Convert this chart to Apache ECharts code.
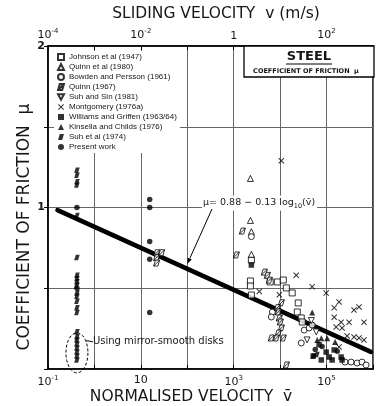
<!DOCTYPE html>
<html>
<head>
<meta charset="utf-8">
<script src="https://cdn.jsdelivr.net/npm/echarts@6.0.0/dist/echarts.min.js"></script>
<style>
  html, body { margin: 0; padding: 0; background: #fff; }
  #chart { width: 376px; height: 406px; }
</style>
</head>
<body>
<div id="chart"></div>
<script>
// Friction coefficient of steel against normalised sliding velocity.
// Each source is a list of [normalised velocity, coefficient of friction].
const johnson1947 = [[2.29e3,0.545],[2.29e3,0.514],[2.4e3,0.458],[2.4e3,0.675],[6.1e3,0.539],[8.7e3,0.539],[1.17e4,0.551],[1.36e4,0.502],[1.82e4,0.471],[2.45e4,0.409],[2.34e4,0.353],[2.85e4,0.316],[3.0e4,0.291]];
const quinnEtAl1980 = [[2.29e3,1.18],[2.29e3,0.92],[2.4e3,0.85],[2.4e3,0.71]];
const bowdenPersson1961 = [[2.4e3,0.82],[6.8e3,0.353],[6.45e3,0.322],[3.3e4,0.241],[4.2e4,0.254],[4.9e4,0.272],[2.85e4,0.161],[2.5e5,0.043],[3.37e5,0.043],[4.54e5,0.037],[5.8e5,0.043],[7.1e5,0.025]];
const quinn1967 = [[21.9,0.72],[21.9,0.69],[21.9,0.656],[28,0.72],[1.54e3,0.854],[1.14e3,0.706],[4.57e3,0.60],[5.3e3,0.58],[5.85e3,0.55],[1.06e4,0.41],[8.7e3,0.38],[9.1e3,0.353],[9.6e3,0.316],[1.01e4,0.291],[1.06e4,0.254],[9.1e3,0.223],[6.45e3,0.192],[8.3e3,0.192],[1.17e4,0.192],[1.36e4,0.025]];
const suhSin1981 = [[4.7e4,0.30],[6.0e4,0.23],[3.8e4,0.18]];
const montgomery1976a = [[1.06e4,1.29],[3.56e3,0.48],[9.6e3,0.46],[2.22e4,0.58],[4.9e4,0.51],[9.8e4,0.47],[1.46e5,0.38],[1.86e5,0.415],[3.9e5,0.365],[5.0e5,0.384],[1.46e5,0.32],[2.06e5,0.29],[3.05e5,0.29],[6.4e5,0.29],[1.61e5,0.26],[2.16e5,0.254],[2.77e5,0.204],[3.9e5,0.198],[5.0e5,0.192],[6.4e5,0.18],[1.86e5,0.136]];
const williamsGriffen = [[6.9e4,0.15],[9.8e4,0.105],[1.14e5,0.074],[1.32e5,0.056],[2.06e5,0.074],[2.16e5,0.056],[5.15e4,0.08],[7.7e4,0.056],[1.46e5,0.118],[2.4e3,0.644]];
const kinsellaChilds = [[4.9e4,0.35],[6.3e4,0.18],[7.7e4,0.19],[1.03e5,0.19],[1.53e5,0.167]];
const suhEtAl1974 = [[0.42,1.23],[0.42,1.20],[0.42,1.16],[0.42,1.14],[0.42,0.95],[0.42,0.69],[0.42,0.58],[0.42,0.56],[0.42,0.54],[0.42,0.52],[0.42,0.47],[0.42,0.45],[0.42,0.42],[0.42,0.38],[0.42,0.35],[0.42,0.23],[0.42,0.20],[0.42,0.18],[0.42,0.155],[0.42,0.13],[0.42,0.105],[0.42,0.08],[0.42,0.055],[5.2e4,0.08],[6.2e4,0.09]];
const presentWork = [[0.42,1.00],[0.42,0.50],[15.5,1.05],[15.5,1.00],[15.5,0.79],[15.5,0.68],[15.5,0.35],[8.0e4,0.14],[5.7e4,0.12],[1.7e5,0.11]];

// Fitted law  mu = fitA - fitB * log10(v)
const fitA = 0.88;
const fitB = 0.13;
const fitRange = [0.16, 9.0e5];

// Tick labels that are printed on each axis (exponents of ten)
const bottomExponents = [-1, 1, 3, 5];
const topExponents = [-4, -2, 0, 2];
const yTickLabels = { 1: '1', 2: '2' };

const FONT = 'DejaVu Sans';
const INK = '#161616';

const SYM_QUINN = 'path://M3,0 L10,0 L7,10 L0,10 Z M0,10 L10,0';
const SYM_SUH = 'path://M3,0 L10,0 L7,10 L0,10 Z';
const SYM_CROSS = 'path://M0,1.2 L1.2,0 L5,3.8 L8.8,0 L10,1.2 L6.2,5 L10,8.8 L8.8,10 L5,6.2 L1.2,10 L0,8.8 L3.8,5 Z';
const SYM_DOWN = 'path://M0,0 L10,0 L5,9 Z';

const openStyle = { color: '#fff', borderColor: '#000', borderWidth: 1 };
const solidStyle = { color: '#000', borderColor: '#000', borderWidth: 0 };

function pow10Label(e) {
  if (e === 0) return '1';
  if (e === 1) return '10';
  return '10{s|' + e + '}';
}

const sources = [
  { name: 'Johnson et al (1947)', data: johnson1947, symbol: 'rect', size: 6, style: openStyle },
  { name: 'Quinn et al (1980)', data: quinnEtAl1980, symbol: 'triangle', size: 6, style: openStyle },
  { name: 'Bowden and Persson (1961)', data: bowdenPersson1961, symbol: 'circle', size: 6, style: openStyle },
  { name: 'Quinn (1967)', data: quinn1967, symbol: SYM_QUINN, size: 6, style: openStyle },
  { name: 'Suh and Sin (1981)', data: suhSin1981, symbol: SYM_DOWN, size: 6, style: openStyle },
  { name: 'Montgomery (1976a)', data: montgomery1976a, symbol: SYM_CROSS, size: 6, style: solidStyle },
  { name: 'Williams and Griffen (1963/64)', data: williamsGriffen, symbol: 'rect', size: 5.5, style: solidStyle },
  { name: 'Kinsella and Childs (1976)', data: kinsellaChilds, symbol: 'triangle', size: 6, style: solidStyle },
  { name: 'Suh et al (1974)', data: suhEtAl1974, symbol: SYM_SUH, size: 5.5, style: solidStyle },
  { name: 'Present work', data: presentWork, symbol: 'circle', size: 5.5, style: solidStyle }
];

const chart = echarts.init(document.getElementById('chart'), null, { renderer: 'canvas' });

const series = sources.map(s => ({
  name: s.name,
  type: 'scatter',
  data: s.data,
  symbol: s.symbol,
  symbolSize: s.size,
  itemStyle: s.style,
  xAxisIndex: 0,
  yAxisIndex: 0,
  z: 4,
  silent: true
}));

series.push({
  name: 'fit',
  type: 'line',
  data: fitRange.map(v => [v, fitA - fitB * Math.log10(v)]),
  showSymbol: false,
  symbol: 'none',
  lineStyle: { color: '#000', width: 4.5, cap: 'round' },
  xAxisIndex: 0,
  yAxisIndex: 0,
  z: 3,
  silent: true
});

const gridLine = { show: true, lineStyle: { color: '#666', width: 1 } };

chart.setOption({
  animation: false,
  backgroundColor: '#fff',
  grid: { left: 48, right: 2, top: 46, bottom: 37, show: true, borderColor: '#000', borderWidth: 1.5, backgroundColor: 'transparent' },
  xAxis: [
    {
      type: 'log', logBase: 10, min: 0.1, max: 1e6, splitNumber: 7,
      position: 'bottom',
      axisLine: { show: true, lineStyle: { color: '#000', width: 1.5 } },
      axisTick: { show: true, inside: true, length: 4, lineStyle: { color: '#000' } },
      splitLine: gridLine,
      axisLabel: {
        margin: 6, color: INK, fontFamily: FONT, fontSize: 11,
        formatter: v => {
          const e = Math.round(Math.log10(v));
          return bottomExponents.includes(e) ? pow10Label(e) : '';
        },
        rich: { s: { fontSize: 7, fontFamily: FONT, color: INK, padding: [0, 0, 7, 0] } }
      }
    },
    {
      type: 'log', logBase: 10, min: 1e-4, max: 1e3, splitNumber: 7,
      position: 'top',
      axisLine: { show: true, lineStyle: { color: '#000', width: 1.5 } },
      axisTick: { show: true, inside: true, length: 4, lineStyle: { color: '#000' } },
      splitLine: { show: false },
      axisLabel: {
        margin: 4, color: INK, fontFamily: FONT, fontSize: 11,
        formatter: v => {
          const e = Math.round(Math.log10(v));
          return topExponents.includes(e) ? pow10Label(e) : '';
        },
        rich: { s: { fontSize: 7, fontFamily: FONT, color: INK, padding: [0, 0, 7, 0] } }
      }
    }
  ],
  yAxis: {
    type: 'value', min: 0, max: 2, interval: 0.5,
    axisLine: { show: true, lineStyle: { color: '#000', width: 1.5 } },
    axisTick: { show: true, inside: false, length: 4, lineStyle: { color: '#000' } },
    splitLine: gridLine,
    axisLabel: {
      margin: 3, color: INK, fontFamily: FONT, fontSize: 11, fontWeight: 'bold',
      formatter: v => yTickLabels[v] || ''
    }
  },
  legend: {
    data: sources.map(s => s.name),
    orient: 'vertical',
    left: 54, top: 51,
    itemWidth: 6, itemHeight: 6, itemGap: 2,
    padding: [2, 3, 2, 3],
    backgroundColor: '#fff',
    selectedMode: false,
    z: 6,
    textStyle: { fontFamily: 'Liberation Sans', fontSize: 8, color: INK, lineHeight: 8 }
  },
  series: series
});

// Annotations drawn on top of the plot
const px = (v, m) => chart.convertToPixel({ xAxisIndex: 0, yAxisIndex: 0 }, [v, m]);

// Leader from the equation to the fitted line
const tipV = 100;
const tip = px(tipV, fitA - fitB * Math.log10(tipV) + 0.03);
const tail = [212, 209];
const ang = Math.atan2(tip[1] - tail[1], tip[0] - tail[0]);
const ah = 6, aw = 2.2;
const base = [tip[0] - ah * Math.cos(ang), tip[1] - ah * Math.sin(ang)];
const head = [
  tip,
  [base[0] + aw * Math.sin(ang), base[1] - aw * Math.cos(ang)],
  [base[0] - aw * Math.sin(ang), base[1] + aw * Math.cos(ang)]
];

// Dashed loop round the mirror-smooth disk results
const loopC = px(0.42, 0.10);
const loopPts = [];
for (let i = 0; i < 48; i++) {
  const t = i / 48 * Math.PI * 2;
  loopPts.push([loopC[0] + 11 * Math.cos(t), loopC[1] + 20 * Math.sin(t)]);
}

chart.setOption({
  graphic: [
    // axis titles
    { type: 'text', x: 216, y: 14, z: 10, style: { text: 'SLIDING VELOCITY  v (m/s)', font: '15.5px ' + FONT, fill: INK, align: 'center', verticalAlign: 'middle' } },
    { type: 'text', x: 191, y: 397, z: 10, style: { text: 'NORMALISED VELOCITY  v\u0304', font: '15.5px ' + FONT, fill: INK, align: 'center', verticalAlign: 'middle' } },
    { type: 'text', x: 25, y: 227, rotation: Math.PI / 2, z: 10, style: { text: 'COEFFICIENT OF FRICTION  \u03bc', font: '17px ' + FONT, fill: INK, align: 'center', verticalAlign: 'middle' } },
    // material box
    { type: 'rect', z: 10, shape: { x: 244, y: 46, width: 130, height: 31 }, style: { fill: '#fff', stroke: '#000', lineWidth: 1.3 } },
    { type: 'text', x: 309, y: 57, z: 11, style: { text: 'STEEL', font: 'bold 13px ' + FONT, fill: INK, align: 'center', verticalAlign: 'middle' } },
    { type: 'line', z: 11, shape: { x1: 286, y1: 64, x2: 332, y2: 64 }, style: { stroke: '#000', lineWidth: 1.2 } },
    { type: 'text', x: 306, y: 71, z: 11, style: { text: 'COEFFICIENT OF FRICTION  \u03bc', font: 'bold 6.5px ' + FONT, fill: INK, align: 'center', verticalAlign: 'middle' } },
    // equation of the fitted line
    { type: 'text', x: 202, y: 203, z: 10, style: {
        text: '\u03bc= 0.88 \u2212 0.13 log{s|10}(v\u0304)', font: '9.5px ' + FONT, fill: INK,
        align: 'left', verticalAlign: 'middle', backgroundColor: '#fff', padding: [1, 2, 1, 1],
        rich: { s: { font: '6.5px ' + FONT, fill: INK, padding: [6, 0, 0, 0] } }
    } },
    { type: 'line', z: 10, shape: { x1: tail[0], y1: tail[1], x2: base[0], y2: base[1] }, style: { stroke: '#000', lineWidth: 1 } },
    { type: 'polygon', z: 10, shape: { points: head }, style: { fill: '#000' } },
    // mirror-smooth disks note
    { type: 'polygon', z: 10, shape: { points: loopPts }, style: { fill: 'none', stroke: '#000', lineWidth: 1, lineDash: [3, 2] } },
    { type: 'bezierCurve', z: 10, shape: { x1: loopC[0] + 9, y1: loopC[1] - 12, cpx1: loopC[0] + 12, cpy1: loopC[1] - 12, x2: loopC[0] + 16, y2: loopC[1] - 11 }, style: { stroke: '#000', lineWidth: 1, fill: 'none' } },
    { type: 'text', x: loopC[0] + 16, y: loopC[1] - 11, z: 10, style: { text: 'Using mirror-smooth disks', font: '10px ' + FONT, fill: INK, align: 'left', verticalAlign: 'middle' } }
  ]
});
</script>
</body>
</html>
